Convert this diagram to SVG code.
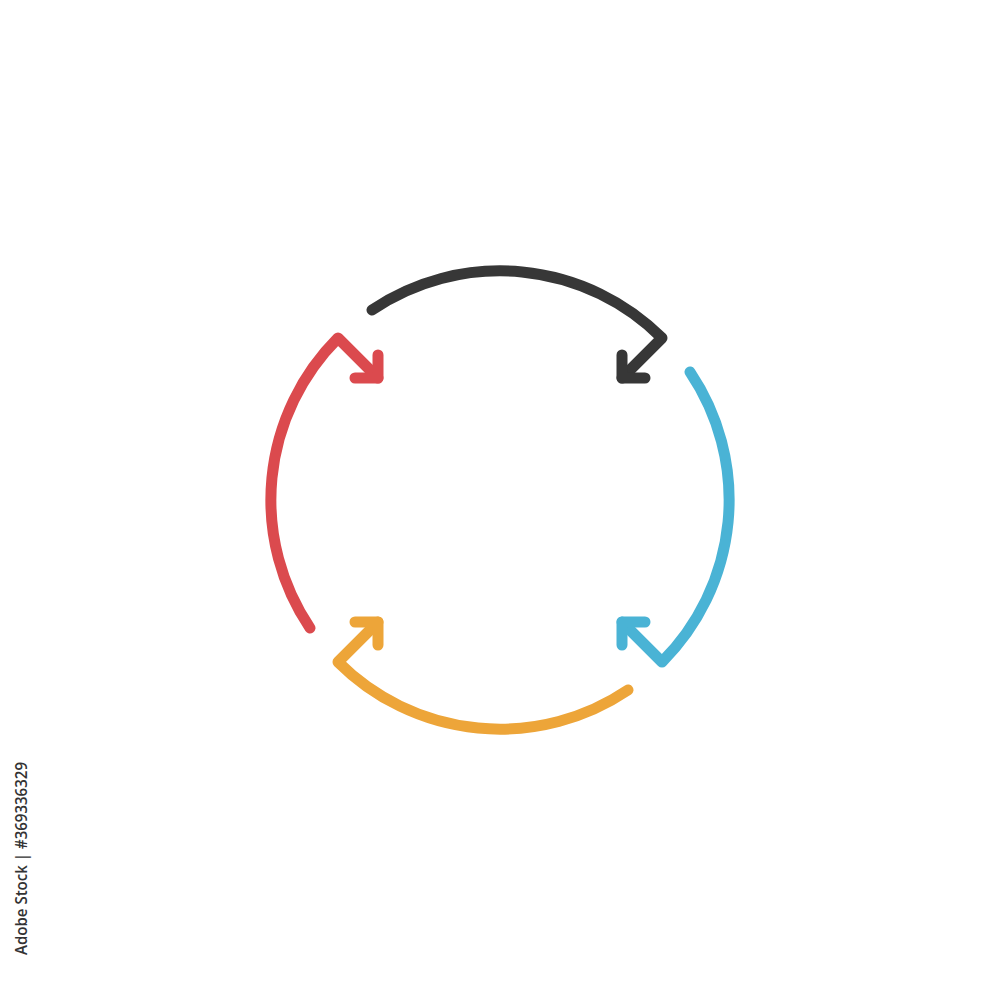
<svg xmlns="http://www.w3.org/2000/svg" width="1000" height="1000" viewBox="0 0 1000 1000">
<style>
.a{fill:none;stroke-width:11;stroke-linecap:round;stroke-linejoin:round}
.k{stroke:#373737}.r{stroke:#db4a4e}.o{stroke:#eda539}.b{stroke:#4ab3d5}
.lbl{font-family:"Open Sans","Liberation Sans",sans-serif;font-size:17px;font-weight:600;fill:#333}
</style>
<rect width="1000" height="1000" fill="#fff"/>
<g id="arrows">
<g id="black"><path class="a k" d="M372 310 A229 229 0 0 1 662 338 L622 378"/><path class="a k" d="M622 355 L622 378 L645 378"/></g>
<g id="blue"><path class="a b" d="M690 372 A229 229 0 0 1 662 662 L622 622"/><path class="a b" d="M645 622 L622 622 L622 645"/></g>
<g id="orange"><path class="a o" d="M628 690 A229 229 0 0 1 338 662 L378 622"/><path class="a o" d="M355 622 L378 622 L378 645"/></g>
<g id="red"><path class="a r" d="M310 628 A229 229 0 0 1 338 338 L378 378"/><path class="a r" d="M378 355 L378 378 L355 378"/></g>
</g>
<text class="lbl" transform="translate(27 955) rotate(-90)" textLength="193" lengthAdjust="spacingAndGlyphs">Adobe Stock | #369336329</text>
</svg>
